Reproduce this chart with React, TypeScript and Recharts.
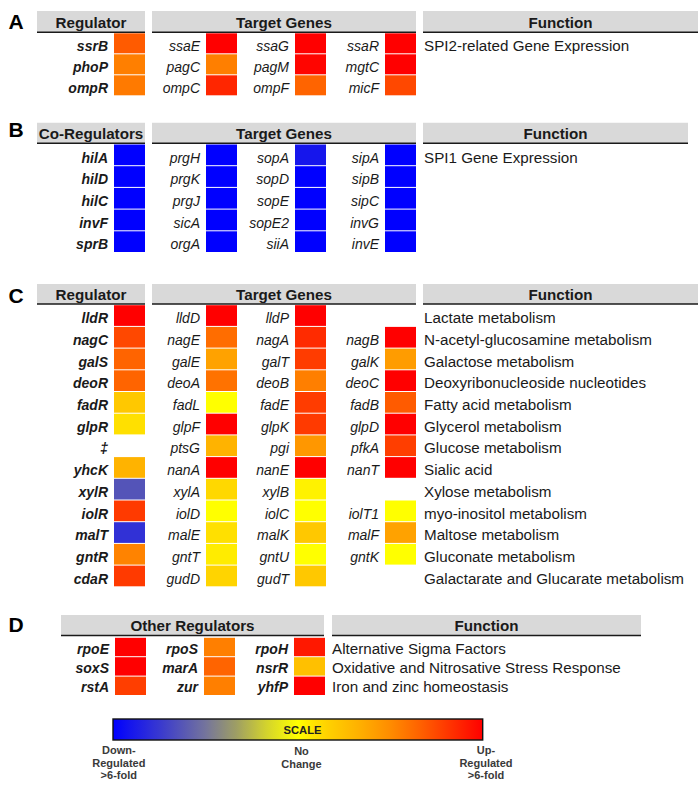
import React from 'react';
import { ScatterChart, Scatter, XAxis, YAxis, ReferenceArea, ReferenceLine } from 'recharts';

const W = 700;
const H = 785;
const FONT = '"Liberation Sans", Arial, Helvetica, sans-serif';
const TEXT = '#1a1a1a';

// ---------------- DATA (fold change, -6 = down >6-fold, +6 = up >6-fold) ----------------
// Section A
const aRegulators = ['ssrB', 'phoP', 'ompR'];
const aRegulatorFold = [4.1, 3.3, 3.4];
const aTargets1 = ['ssaE', 'pagC', 'ompC'];
const aFold1 = [6, 3.3, 5.2];
const aTargets2 = ['ssaG', 'pagM', 'ompF'];
const aFold2 = [6, 5.9, 3.9];
const aTargets3 = ['ssaR', 'mgtC', 'micF'];
const aFold3 = [6, 6, 4.5];
const aFunctions = ['SPI2-related Gene Expression'];

// Section B
const bRegulators = ['hilA', 'hilD', 'hilC', 'invF', 'sprB'];
const bRegulatorFold = [-6, -6, -6, -6, -6];
const bTargets1 = ['prgH', 'prgK', 'prgJ', 'sicA', 'orgA'];
const bFold1 = [-6, -6, -6, -6, -6];
const bTargets2 = ['sopA', 'sopD', 'sopE', 'sopE2', 'siiA'];
const bFold2 = [-5.4, -6, -6, -6, -6];
const bTargets3 = ['sipA', 'sipB', 'sipC', 'invG', 'invE'];
const bFold3 = [-6, -6, -6, -6, -6];
const bFunctions = ['SPI1 Gene Expression'];

// Section C
const cRegulators = ['lldR', 'nagC', 'galS', 'deoR', 'fadR', 'glpR', '\u2021', 'yhcK', 'xylR', 'iolR', 'malT', 'gntR', 'cdaR'];
const cRegulatorFold: (number | null)[] = [6, 4.5, 3.9, 3.9, 1.25, 0.6, null, 1.9, -3.8, 4.8, -4.7, 3.2, 4.8];
const cTargets1 = ['lldD', 'nagE', 'galE', 'deoA', 'fadL', 'glpF', 'ptsG', 'nanA', 'xylA', 'iolD', 'malE', 'gntT', 'gudD'];
const cFold1: (number | null)[] = [6, 3.7, 2.4, 3.6, 0, 6, 1.9, 6, 0.8, 0, 0.6, 0.35, 0.9];
const cTargets2 = ['lldP', 'nagA', 'galT', 'deoB', 'fadE', 'glpK', 'pgi', 'nanE', 'xylB', 'iolC', 'malK', 'gntU', 'gudT'];
const cFold2: (number | null)[] = [6, 5.1, 4.75, 3.3, 4.75, 4.8, 2.7, 6, 0.25, 0, 1.25, 0, 1.25];
const cTargets3 = ['', 'nagB', 'galK', 'deoC', 'fadB', 'glpD', 'pfkA', 'nanT', '', 'iolT1', 'malF', 'gntK', ''];
const cFold3: (number | null)[] = [null, 6, 2.55, 6, 4.1, 6, 4.7, 6, null, 0, 2.4, 0, null];
const cFunctions = [
  'Lactate metabolism',
  'N-acetyl-glucosamine metabolism',
  'Galactose metabolism',
  'Deoxyribonucleoside nucleotides',
  'Fatty acid metabolism',
  'Glycerol metabolism',
  'Glucose metabolism',
  'Sialic acid',
  'Xylose metabolism',
  'myo-inositol metabolism',
  'Maltose metabolism',
  'Gluconate metabolism',
  'Galactarate and Glucarate metabolism',
];

// Section D
const dRegulators1 = ['rpoE', 'soxS', 'rstA'];
const dFold1 = [6, 6, 4.7];
const dRegulators2 = ['rpoS', 'marA', 'zur'];
const dFold2 = [3.3, 3.9, 3.3];
const dRegulators3 = ['rpoH', 'nsrR', 'yhfP'];
const dFold3 = [5.5, 1.5, 6];
const dFunctions = [
  'Alternative Sigma Factors',
  'Oxidative and Nitrosative Stress Response',
  'Iron and zinc homeostasis',
];

// Scale legend
const scaleTitle = 'SCALE';
const scaleLeftLabel = ['Down-', 'Regulated', '>6-fold'];
const scaleMidLabel = ['No', 'Change'];
const scaleRightLabel = ['Up-', 'Regulated', '>6-fold'];

// ---------------- COLOUR SCALE ----------------
const COLOR_STOPS: [number, string][] = [
  [-6, '#0000FF'],
  [-4.5, '#3838D0'],
  [-3, '#74749C'],
  [-2, '#9E9E64'],
  [-1, '#D4D42C'],
  [0, '#FFFF00'],
  [0.5, '#FFE400'],
  [1, '#FFD000'],
  [2, '#FFB000'],
  [3, '#FF8C00'],
  [4, '#FF6000'],
  [5, '#FF3000'],
  [6, '#FF0000'],
];

function hexToRgb(h: string) {
  return [parseInt(h.slice(1, 3), 16), parseInt(h.slice(3, 5), 16), parseInt(h.slice(5, 7), 16)];
}
function colorFor(v: number) {
  const c = Math.max(-6, Math.min(6, v));
  for (let i = 0; i < COLOR_STOPS.length - 1; i++) {
    const [v0, h0] = COLOR_STOPS[i];
    const [v1, h1] = COLOR_STOPS[i + 1];
    if (c >= v0 && c <= v1) {
      const t = (c - v0) / (v1 - v0);
      const a = hexToRgb(h0);
      const b = hexToRgb(h1);
      const m = a.map((x, k) => Math.round(x + (b[k] - x) * t));
      return `rgb(${m[0]},${m[1]},${m[2]})`;
    }
  }
  return COLOR_STOPS[COLOR_STOPS.length - 1][1];
}

// ---------------- LAYOUT ----------------
const CELL_W = 31;
const LABEL_GAP = 6;
const STD_CELLS = [114, 206, 295, 385];
const D_CELLS = [115, 204, 294];

type Head = [number, number, string];
const SECTIONS = [
  { letter: 'A', letterBase: 29.3, headTop: 11, headBottom: 32.3, rowTop: 32.8, rowH: 21, dy: 7.7, funcX: 424,
    heads: [[37, 145, 'Regulator'], [152, 416, 'Target Genes'], [423, 698, 'Function']] as Head[] },
  { letter: 'B', letterBase: 136.5, headTop: 122.7, headBottom: 143.3, rowTop: 144, rowH: 21.7, dy: 7.7, funcX: 424,
    heads: [[37, 145, 'Co-Regulators'], [152, 416, 'Target Genes'], [423, 688, 'Function']] as Head[] },
  { letter: 'C', letterBase: 302.5, headTop: 284, headBottom: 304, rowTop: 304.7, rowH: 21.7, dy: 7.7, funcX: 424,
    heads: [[37, 145, 'Regulator'], [152, 416, 'Target Genes'], [423, 698, 'Function']] as Head[] },
  { letter: 'D', letterBase: 631.7, headTop: 615, headBottom: 635.5, rowTop: 637.3, rowH: 19.4, dy: 6.5, funcX: 332,
    heads: [[61, 324, 'Other Regulators'], [332, 641, 'Function']] as Head[] },
];

type Col = { genes: string[]; folds: (number | null)[]; cellX: number; bold: boolean };
const COLUMNS: Col[][] = [
  [
    { genes: aRegulators, folds: aRegulatorFold, cellX: STD_CELLS[0], bold: true },
    { genes: aTargets1, folds: aFold1, cellX: STD_CELLS[1], bold: false },
    { genes: aTargets2, folds: aFold2, cellX: STD_CELLS[2], bold: false },
    { genes: aTargets3, folds: aFold3, cellX: STD_CELLS[3], bold: false },
  ],
  [
    { genes: bRegulators, folds: bRegulatorFold, cellX: STD_CELLS[0], bold: true },
    { genes: bTargets1, folds: bFold1, cellX: STD_CELLS[1], bold: false },
    { genes: bTargets2, folds: bFold2, cellX: STD_CELLS[2], bold: false },
    { genes: bTargets3, folds: bFold3, cellX: STD_CELLS[3], bold: false },
  ],
  [
    { genes: cRegulators, folds: cRegulatorFold, cellX: STD_CELLS[0], bold: true },
    { genes: cTargets1, folds: cFold1, cellX: STD_CELLS[1], bold: false },
    { genes: cTargets2, folds: cFold2, cellX: STD_CELLS[2], bold: false },
    { genes: cTargets3, folds: cFold3, cellX: STD_CELLS[3], bold: false },
  ],
  [
    { genes: dRegulators1, folds: dFold1, cellX: D_CELLS[0], bold: true },
    { genes: dRegulators2, folds: dFold2, cellX: D_CELLS[1], bold: true },
    { genes: dRegulators3, folds: dFold3, cellX: D_CELLS[2], bold: true },
  ],
];
const FUNCTIONS = [aFunctions, bFunctions, cFunctions, dFunctions];

// ---------------- BUILD POINTS ----------------
const cellPoints: any[] = [];
const textPoints: any[] = [];

SECTIONS.forEach((s, si) => {
  textPoints.push({ x: 8.5, y: s.letterBase, text: s.letter, anchor: 'start', size: 21, weight: 'bold', style: 'normal', color: '#000' });
  s.heads.forEach(([x1, x2, title]) => {
    textPoints.push({ x: (x1 + x2) / 2, y: s.headBottom - 4.3, text: title, anchor: 'middle', size: 15.2, weight: 'bold', style: 'normal', color: TEXT });
  });
  COLUMNS[si].forEach((col) => {
    col.genes.forEach((g, i) => {
      const cy = s.rowTop + s.rowH * (i + 0.5);
      const f = col.folds[i];
      if (f !== null && f !== undefined) {
        cellPoints.push({ x: col.cellX + CELL_W / 2, y: cy, w: CELL_W, h: s.rowH, fill: colorFor(f), gene: g, fold: f });
      }
      if (g) {
        textPoints.push({ x: col.cellX - LABEL_GAP, y: cy + s.dy, text: g, anchor: 'end', size: 14, weight: col.bold ? 'bold' : 'normal', style: 'italic', color: TEXT });
      }
    });
  });
  FUNCTIONS[si].forEach((fn, i) => {
    textPoints.push({ x: s.funcX, y: s.rowTop + s.rowH * (i + 0.5) + s.dy, text: fn, anchor: 'start', size: 15.2, weight: 'normal', style: 'normal', color: TEXT });
  });
});

// scale legend
const SCALE_BOX = { x1: 113, x2: 482.7, y1: 719, y2: 740 };
const scalePoints = [{ x: (SCALE_BOX.x1 + SCALE_BOX.x2) / 2, y: (SCALE_BOX.y1 + SCALE_BOX.y2) / 2, w: SCALE_BOX.x2 - SCALE_BOX.x1, h: SCALE_BOX.y2 - SCALE_BOX.y1 }];
textPoints.push({ x: 302.5, y: 734.3, text: scaleTitle, anchor: 'middle', size: 11.2, weight: 'bold', style: 'normal', color: '#222' });
const legendLines = (lines: string[], cx: number, base: number) =>
  lines.forEach((t, i) => textPoints.push({ x: cx, y: base + i * 12.6, text: t, anchor: 'middle', size: 11, weight: 'bold', style: 'normal', color: '#3a3a3a' }));
legendLines(scaleLeftLabel, 118.8, 754);
legendLines(scaleMidLabel, 301.5, 755.3);
legendLines(scaleRightLabel, 486, 754);

const gradientStops: { offset: number; color: string }[] = [];
for (let v = -6; v <= 6.0001; v += 0.25) gradientStops.push({ offset: (v + 6) / 12, color: colorFor(v) });

// ---------------- SHAPES ----------------
const CellShape = (p: any) => {
  const d = p.payload;
  if (p.cx == null || p.cy == null) return null;
  return <rect x={p.cx - d.w / 2} y={p.cy - d.h / 2 + 0.5} width={d.w} height={d.h - 1} fill={d.fill} />;
};

const TextShape = (p: any) => {
  const d = p.payload;
  if (p.cx == null || p.cy == null) return null;
  return (
    <text x={p.cx} y={p.cy} textAnchor={d.anchor} fontFamily={FONT} fontSize={d.size} fontWeight={d.weight} fontStyle={d.style} fill={d.color}>
      {d.text}
    </text>
  );
};

const ScaleShape = (p: any) => {
  const d = p.payload;
  if (p.cx == null || p.cy == null) return null;
  return (
    <g>
      <defs>
        <linearGradient id="foldScaleGrad" x1="0" y1="0" x2="1" y2="0">
          {gradientStops.map((s, i) => (
            <stop key={i} offset={s.offset} stopColor={s.color} />
          ))}
        </linearGradient>
      </defs>
      <rect x={p.cx - d.w / 2} y={p.cy - d.h / 2} width={d.w} height={d.h} fill="url(#foldScaleGrad)" stroke="#111" strokeWidth={1.4} />
    </g>
  );
};

export default function App() {
  return (
    <div style={{ width: W, height: H, background: '#fff' }}>
      <style>{'body{margin:0;background:#fff}'}</style>
      <ScatterChart width={W} height={H} margin={{ top: 0, right: 0, bottom: 0, left: 0 }}>
        <XAxis type="number" dataKey="x" domain={[0, W]} hide allowDataOverflow />
        <YAxis type="number" dataKey="y" domain={[0, H]} reversed hide allowDataOverflow />
        {SECTIONS.flatMap((s, si) =>
          s.heads.map(([x1, x2], hi) => (
            <ReferenceArea key={`ha${si}-${hi}`} x1={x1} x2={x2} y1={s.headTop} y2={s.headBottom} fill="#D9D9D9" fillOpacity={1} stroke="none" />
          ))
        )}
        {SECTIONS.flatMap((s, si) =>
          s.heads.map(([x1, x2], hi) => (
            <ReferenceLine key={`hl${si}-${hi}`} segment={[{ x: x1, y: s.headBottom }, { x: x2, y: s.headBottom }]} stroke="#1a1a1a" strokeWidth={1.6} />
          ))
        )}
        <Scatter name="cells" data={cellPoints} shape={CellShape} isAnimationActive={false} />
        <Scatter name="scale" data={scalePoints} shape={ScaleShape} isAnimationActive={false} />
        <Scatter name="texts" data={textPoints} shape={TextShape} isAnimationActive={false} />
      </ScatterChart>
    </div>
  );
}
